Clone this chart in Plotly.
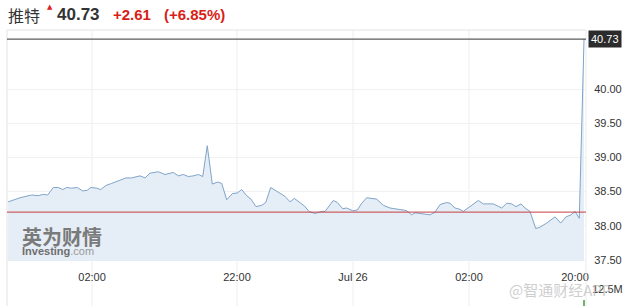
import plotly.graph_objects as go

# ---- data ----
t = [0.2, 0.81, 2.25, 4.27, 5.42, 6.28, 7.04, 8.01, 8.88, 9.64, 10.33, 11.19, 12.16, 13.10, 13.89,
     14.48, 15.52, 16.21, 17.13, 18.11, 19.26, 20.59, 21.57, 22.44, 23.01, 23.88, 24.74, 26.18,
     27.34, 28.77, 29.64, 30.50, 31.37, 32.23, 33.10, 33.86, 34.65, 35.52, 36.45, 37.15, 38.01,
     38.98, 39.84, 40.61, 41.47, 42.21, 43.08, 44.07, 44.76, 45.62, 46.66, 48.10, 48.96, 49.71,
     50.52, 51.44, 52.25, 53.29, 54.45, 55.02, 56.45, 57.15, 58.08, 58.77, 59.81, 60.61, 61.37,
     62.23, 63.96, 65.10, 66.26, 67.42, 68.56, 69.15, 70.02, 70.59, 71.45, 72.32, 73.18, 74.05,
     74.91, 76.07, 76.64, 77.51, 78.37, 78.94, 79.81, 80.67, 81.54, 82.41, 84.13, 85.59, 86.45,
     87.32, 88.06, 88.93, 89.62, 90.48, 91.47, 92.21, 93.37, 94.81, 95.80, 96.71, 97.58, 98.27,
     99.01, 99.83]
price = [38.35, 38.37, 38.41, 38.45, 38.44, 38.46, 38.45, 38.56, 38.56, 38.53, 38.56, 38.55, 38.56,
         38.51, 38.52, 38.56, 38.55, 38.53, 38.59, 38.62, 38.66, 38.70, 38.70, 38.72, 38.73, 38.70,
         38.77, 38.79, 38.75, 38.78, 38.73, 38.75, 38.72, 38.73, 38.75, 38.72, 39.17, 38.61, 38.64,
         38.62, 38.38, 38.47, 38.48, 38.53, 38.44, 38.39, 38.28, 38.30, 38.34, 38.56, 38.51, 38.43,
         38.35, 38.40, 38.35, 38.29, 38.21, 38.18, 38.21, 38.21, 38.37, 38.34, 38.25, 38.26, 38.22,
         38.23, 38.33, 38.41, 38.39, 38.30, 38.26, 38.25, 38.23, 38.22, 38.16, 38.19, 38.18, 38.18,
         38.16, 38.20, 38.31, 38.34, 38.33, 38.26, 38.24, 38.21, 38.26, 38.31, 38.37, 38.32, 38.32,
         38.26, 38.33, 38.32, 38.28, 38.32, 38.26, 38.21, 37.96, 37.98, 38.04, 38.13, 38.04, 38.13,
         38.16, 38.21, 38.11, 40.73]
vol_t = [99.83]
vol = [4.4e6]

prev_close = 38.20
last_price = 40.73

x_tickvals = [14.71, 39.79, 59.86, 79.93, 98.27]
x_ticktext = ["02:00", "22:00", "Jul 26", "02:00", "20:00"]
y_tickvals = [37.5, 38.0, 38.5, 39.0, 39.5, 40.0]
y_ticktext = ["37.50", "38.00", "38.50", "39.00", "39.50", "40.00"]

name = "推特"
change = "+2.61"
change_pct = "(+6.85%)"

# ---- figure ----
W, H = 627, 306
ML, MR, MT, MB = 7, 41, 30, 0
plot_h = H - MT - MB

def py(px):  # figure pixel y -> paper y
    return (H - MB - px) / plot_h

X_RANGE = [0, 100.17]
fig = go.Figure()

fig.add_trace(go.Scatter(
    x=t, y=price, mode="lines", fill="tozeroy",
    line=dict(color="rgb(128,164,202)", width=1),
    fillcolor="rgb(229,237,246)", hoverinfo="skip", xaxis="x", yaxis="y"))

fig.add_trace(go.Bar(
    x=vol_t, y=vol, marker=dict(color="rgb(110,180,110)", line=dict(width=0)),
    width=0.35, xaxis="x2", yaxis="y2", hoverinfo="skip"))

axis_font = dict(family="Liberation Sans, Arial, sans-serif", size=11, color="#333333")

fig.update_layout(
    width=W, height=H,
    margin=dict(l=ML, r=MR, t=MT, b=MB, autoexpand=False),
    paper_bgcolor="white", plot_bgcolor="rgba(0,0,0,0)",
    showlegend=False,
    xaxis=dict(range=X_RANGE, domain=[0, 1], anchor="y", automargin=False,
               tickvals=x_tickvals, ticktext=x_ticktext,
               showgrid=False, zeroline=False, showline=False,
               ticks="outside", ticklen=6, tickcolor="rgba(0,0,0,0)",
               tickfont=axis_font, fixedrange=True),
    yaxis=dict(range=[37.485, 40.863], domain=[py(261), 1], anchor="x", automargin=False,
               side="right", tickvals=y_tickvals, ticktext=y_ticktext,
               showgrid=True, gridcolor="#f1f1f1", gridwidth=1,
               zeroline=False, showline=False,
               ticks="outside", ticklen=5, tickcolor="rgba(0,0,0,0)",
               tickfont=axis_font),
    xaxis2=dict(range=X_RANGE, domain=[0, 1], anchor="y2", automargin=False,
                showticklabels=False, showgrid=False, zeroline=False, showline=False),
    yaxis2=dict(range=[0, 12.5e6], domain=[0, py(289)], anchor="x2", automargin=False,
                side="right", tickvals=[12.5e6], ticktext=["12.5M"],
                showgrid=True, gridcolor="#ececec", zeroline=False, showline=False,
                ticks="outside", ticklen=3, tickcolor="rgba(0,0,0,0)",
                tickfont=axis_font),
)

shapes = []
# vertical grid lines across the full height
for tv in x_tickvals[:-1]:
    shapes.append(dict(type="line", xref="x", yref="paper", x0=tv, x1=tv, y0=0, y1=1,
                       line=dict(color="#eeeeee", width=1), layer="below"))
# frame lines
shapes.append(dict(type="line", xref="paper", yref="paper", x0=0, x1=1, y0=1, y1=1,
                   line=dict(color="#e3e3e3", width=1)))
shapes.append(dict(type="line", xref="paper", yref="paper", x0=0, x1=0, y0=0, y1=1,
                   line=dict(color="#e3e3e3", width=1)))
shapes.append(dict(type="line", xref="paper", yref="paper", x0=1, x1=1, y0=0, y1=1,
                   line=dict(color="#ececec", width=1)))
# previous close line
shapes.append(dict(type="line", xref="paper", yref="y", x0=0, x1=1, y0=prev_close, y1=prev_close,
                   line=dict(color="rgb(196,62,64)", width=1)))
# last price line
shapes.append(dict(type="line", xref="paper", yref="y", x0=0, x1=1, y0=last_price, y1=last_price,
                   line=dict(color="#333333", width=1)))
fig.update_layout(shapes=shapes)

def px_x(px):
    return (px - ML) / (W - ML - MR)

ann = []
# last price tag
ann.append(dict(xref="paper", yref="y", x=px_x(588), y=last_price, xanchor="left", yanchor="middle",
                text=f"{last_price:.2f}", showarrow=False, bgcolor="#2b2b2b",
                font=dict(family="Liberation Sans, Arial, sans-serif", size=11, color="white"),
                borderpad=2))
# header
ann.append(dict(xref="paper", yref="paper", x=px_x(6), y=py(15), xanchor="left", yanchor="middle",
                text=name, showarrow=False,
                font=dict(family="Noto Sans CJK SC", size=16, color="#333333")))
ann.append(dict(xref="paper", yref="paper", x=px_x(45), y=py(7), xanchor="left", yanchor="middle",
                text="▲", showarrow=False,
                font=dict(family="DejaVu Sans", size=7, color="#e02020")))
ann.append(dict(xref="paper", yref="paper", x=px_x(55), y=py(15), xanchor="left", yanchor="middle",
                text="<b>40.73</b>", showarrow=False,
                font=dict(family="Liberation Sans, Arial, sans-serif", size=17, color="#333333")))
ann.append(dict(xref="paper", yref="paper", x=px_x(111), y=py(15), xanchor="left", yanchor="middle",
                text=f"<b>{change}</b>", showarrow=False,
                font=dict(family="Liberation Sans, Arial, sans-serif", size=15, color="#d91e18")))
ann.append(dict(xref="paper", yref="paper", x=px_x(162), y=py(15), xanchor="left", yanchor="middle",
                text=f"<b>{change_pct}</b>", showarrow=False,
                font=dict(family="Liberation Sans, Arial, sans-serif", size=15, color="#d91e18")))
# logo
ann.append(dict(xref="paper", yref="paper", x=px_x(20), y=py(236), xanchor="left", yanchor="middle",
                text="<b>英为财情</b>", showarrow=False,
                font=dict(family="Noto Sans CJK SC", size=20, color="#7a7a7a")))
ann.append(dict(xref="paper", yref="paper", x=px_x(20), y=py(251), xanchor="left", yanchor="middle",
                text="<b>Investing</b><span style='color:#9a9a9a'>.com</span>", showarrow=False,
                font=dict(family="Liberation Sans, Arial, sans-serif", size=11, color="#6f6f6f")))
# watermark
ann.append(dict(xref="paper", yref="paper", x=px_x(507), y=py(289), xanchor="left", yanchor="middle",
                text="@智通财经APP", showarrow=False,
                font=dict(family="Noto Sans CJK SC", size=15, color="rgba(190,190,190,0.75)")))
fig.update_layout(annotations=ann)

fig.write_html("out.html")
